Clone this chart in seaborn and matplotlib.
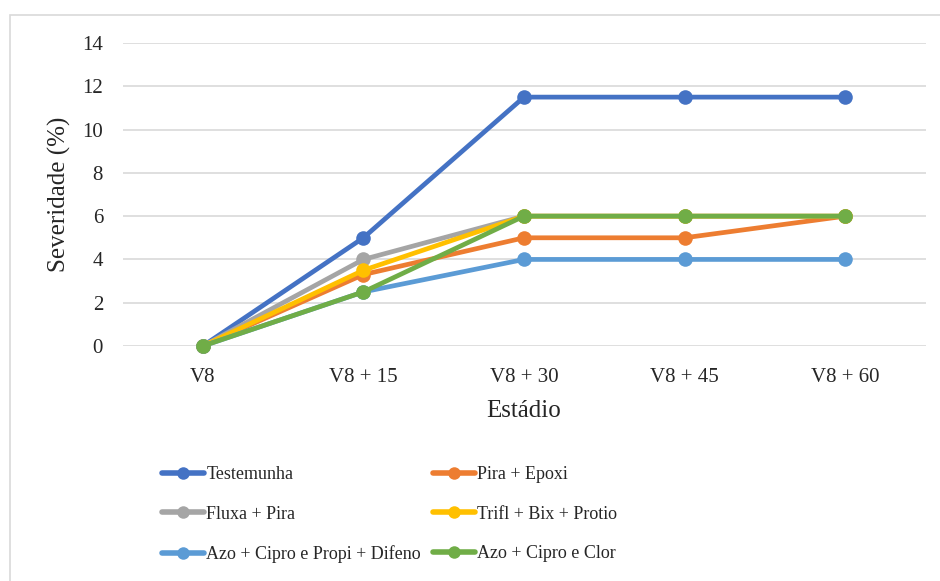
import matplotlib
matplotlib.use("Agg")
import matplotlib.pyplot as plt
from matplotlib.patches import Rectangle
import seaborn as sns
import pandas as pd

stages = ["V8", "V8 + 15", "V8 + 30", "V8 + 45", "V8 + 60"]
testemunha = [0, 5.0, 11.5, 11.5, 11.5]
pira_epoxi = [0, 3.3, 5.0, 5.0, 6.0]
fluxa_pira = [0, 4.0, 6.0, 6.0, 6.0]
trifl_bix_protio = [0, 3.5, 6.0, 6.0, 6.0]
azo_cipro_propi_difeno = [0, 2.5, 4.0, 4.0, 4.0]
azo_cipro_clor = [0, 2.5, 6.0, 6.0, 6.0]

series_names = [
    "Testemunha",
    "Pira + Epoxi",
    "Fluxa + Pira",
    "Trifl + Bix + Protio",
    "Azo + Cipro e Propi + Difeno",
    "Azo + Cipro e Clor",
]
series_values = [
    testemunha,
    pira_epoxi,
    fluxa_pira,
    trifl_bix_protio,
    azo_cipro_propi_difeno,
    azo_cipro_clor,
]
colors = ["#4472C4", "#ED7D31", "#A5A5A5", "#FFC000", "#5B9BD5", "#70AD47"]

rows = []
for name, vals in zip(series_names, series_values):
    for st, v in zip(stages, vals):
        rows.append({"Estádio": st, "Severidade": v, "Tratamento": name})
df = pd.DataFrame(rows)

sns.set_theme(style="white")
plt.rcParams["font.family"] = ["Liberation Serif", "DejaVu Serif"]

W, H = 940, 581
fig = plt.figure(figsize=(W / 100, H / 100), dpi=100)
ax = fig.add_axes([122.5 / W, 1 - 346 / H, (925.5 - 122.5) / W, (346 - 43) / H])

# outer chart frame (only top and left edges fall inside the image)
fig.patches.append(Rectangle((10 / W, -0.1), 2, 1.1 - 15 / H, transform=fig.transFigure,
                             fill=False, edgecolor="#D9D9D9", linewidth=1.2, zorder=0))

sns.lineplot(data=df, x="Estádio", y="Severidade", hue="Tratamento",
             hue_order=series_names, palette=colors, marker="o", markersize=10.5,
             markeredgewidth=0, linewidth=3.4, sort=False, ax=ax, legend=True)

ax.set_xlim(-0.5, len(stages) - 0.5)
ax.set_ylim(0, 14)
ax.set_yticks(range(0, 15, 2))
ax.grid(axis="y", color="#D9D9D9", linewidth=1.2)
ax.set_axisbelow(True)
for s in ax.spines.values():
    s.set_visible(False)
ax.tick_params(axis="both", length=0, labelsize=15, colors="#262626")
ax.tick_params(axis="y", pad=14)
ax.tick_params(axis="x", pad=16)
ax.set_xlabel("Estádio", fontsize=18, color="#262626", labelpad=9)
ax.set_ylabel("Severidade (%)", fontsize=18, color="#262626", labelpad=8)
for line in ax.lines:
    line.set_clip_on(False)

handles, labels = ax.get_legend_handles_labels()
ax.get_legend().remove()
for h in handles:
    h.set_linewidth(4)
    h.set_markersize(9)

# two legend columns, filled row by row
leg_kw = dict(loc="upper left", frameon=False, fontsize=13, handlelength=2.3,
              handletextpad=0.15, labelspacing=1.25, borderpad=0, borderaxespad=0)
fig.legend(handles[0::2], labels[0::2], bbox_to_anchor=(162 / W, 1 - 466 / H), **leg_kw)
fig.legend(handles[1::2], labels[1::2], bbox_to_anchor=(433 / W, 1 - 466 / H), **leg_kw)

fig.savefig("out.png", dpi=100, facecolor="white")
